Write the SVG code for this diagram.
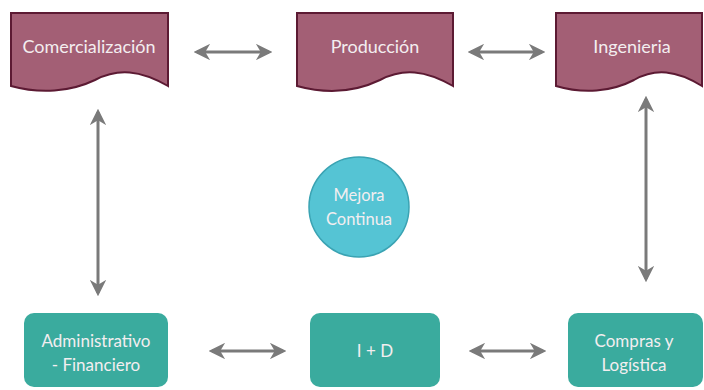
<svg xmlns="http://www.w3.org/2000/svg" width="704" height="390" viewBox="0 0 704 390">
<style>
.doc{fill:#a35f75;stroke:#5c1a33;stroke-width:2}
.box{fill:#3aab9e}
.lbl{font-family:Lato,"Open Sans","Noto Sans",sans-serif;font-size:17px;fill:#f3eef0;text-anchor:middle}
.top{font-size:18px}
.con{stroke:#7a7a7a;stroke-width:3;fill:none;marker-start:url(#ah);marker-end:url(#ah)}
</style>
<defs>
<marker id="ah" viewBox="0 0 10 10" refX="8" refY="5" markerWidth="5.5" markerHeight="5.5" markerUnits="strokeWidth" orient="auto-start-reverse">
<path d="M0,0 L10,5 L0,10 L3,5 Z" fill="#7a7a7a"/>
</marker>
</defs>
<rect width="704" height="390" fill="#ffffff"/>
<g id="connectors">
<line class="con" x1="197" y1="52" x2="269" y2="52"/>
<line class="con" x1="471" y1="52" x2="542" y2="52"/>
<line class="con" x1="98" y1="112" x2="98" y2="293"/>
<line class="con" x1="646" y1="99" x2="646" y2="279"/>
<line class="con" x1="212" y1="351" x2="283" y2="351"/>
<line class="con" x1="472" y1="351" x2="543" y2="351"/>
</g>
<g id="comercializacion">
<path class="doc" d="M11,13 H168 V86 C140,70 118,68 95,80 C70,92 40,94 11,86 Z"/>
<text class="lbl top" x="89" y="53">Comercialización</text>
</g>
<g id="produccion">
<path class="doc" d="M297,13 H453 V86 C425,70 403,68 380,80 C355,92 326,94 297,86 Z"/>
<text class="lbl top" x="375" y="53">Producción</text>
</g>
<g id="ingenieria">
<path class="doc" d="M556,13 H702 V86 C676,70 655,68 634,80 C611,92 583,94 556,86 Z"/>
<text class="lbl top" x="632" y="53">Ingenieria</text>
</g>
<g id="mejora">
<circle cx="359" cy="207" r="50" fill="#55c4d4" stroke="#3aa3b3" stroke-width="1.5"/>
<text class="lbl" x="359" y="201" style="font-size:16.5px">Mejora</text>
<text class="lbl" x="359" y="225" style="font-size:16.5px">Continua</text>
</g>
<g id="administrativo">
<rect class="box" x="24" y="313" width="144" height="74" rx="10"/>
<text class="lbl" x="96" y="347">Administrativo</text>
<text class="lbl" x="96" y="371">- Financiero</text>
</g>
<g id="imasd">
<rect class="box" x="310" y="313" width="130" height="74" rx="10"/>
<text class="lbl" x="375" y="357">I + D</text>
</g>
<g id="compras">
<rect class="box" x="568" y="313" width="135" height="74" rx="10"/>
<text class="lbl" x="634" y="347">Compras y</text>
<text class="lbl" x="634" y="371">Logística</text>
</g>
</svg>
